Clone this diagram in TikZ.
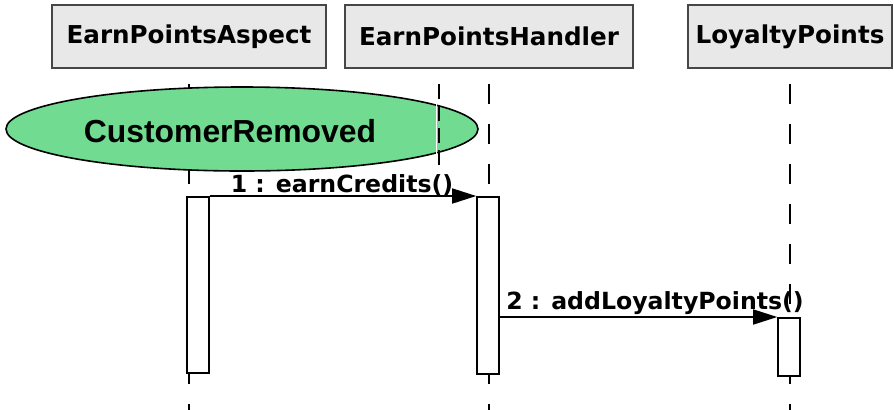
\documentclass[tikz,border=0pt]{standalone}
\usepackage{fontspec}
\setmainfont{DejaVu Sans}
\newfontfamily\ellfont{Liberation Sans}
\usetikzlibrary{arrows.meta,shapes.geometric}
\definecolor{boxfill}{RGB}{232,232,232}
\definecolor{boxline}{RGB}{70,70,70}
\definecolor{evgreen}{RGB}{112,219,145}
\begin{document}
\begin{tikzpicture}[x=1bp,y=-1bp,
  objbox/.style={draw=boxline,fill=boxfill,line width=1.6bp,minimum height=63bp,inner sep=0pt,font=\fontsize{24.7}{28}\selectfont\bfseries},
  lifeline/.style={line width=1.8bp,dash pattern=on 20bp off 20bp,dash phase=25bp},
  actbar/.style={draw,fill=white,line width=1.6bp,minimum width=22bp,inner sep=0pt,anchor=north},
  msg/.style={line width=1.6bp,-{Triangle[length=24bp,width=15bp]}},
  msglabel/.style={font=\fontsize{23.7}{26}\selectfont\bfseries,anchor=base,inner sep=0pt}]
\useasboundingbox[fill=white] (0,0) rectangle (894,409);

% object boxes
\node[objbox,minimum width=274bp] (aspect) at (189,36.5) {EarnPointsAspect};
\node[objbox,minimum width=288bp] (handler) at (489,36.5) {EarnPointsHandler};
\node[objbox,minimum width=204bp] (loyalty) at (790,36.5) {LoyaltyPoints};

% lifeline ends
\coordinate (aend) at (189,412);
\coordinate (hend) at (489,412);
\coordinate (lend) at (790,412);
\draw[lifeline] (aspect.south) -- (aend);
\draw[lifeline] (handler.south) -- (hend);
\draw[lifeline] (loyalty.south) -- (lend);

% event ellipse
\node[draw,fill=evgreen,ellipse,minimum width=472bp,minimum height=84bp,inner sep=0pt,line width=1.6bp] (evt) at (242,129) {};
\node[anchor=base,inner sep=0pt,font=\ellfont\fontsize{32}{36}\selectfont\bfseries] (evtext) at (230,142) {CustomerRemoved};

% extra dashed line over ellipse
\coordinate (xs) at (436.5,89);
\coordinate (xe) at (436.5,168);
\draw[white,line width=1.5bp] (xs) -- (xe);
\coordinate (ds) at (439,84);
\coordinate (de) at (439,172);
\draw[line width=1.8bp,dash pattern=on 15bp off 7bp] (ds) -- (de);

% activation bars
\node[actbar,minimum height=176bp] (abar) at (198,196) {};
\node[actbar,minimum height=177bp] (hbar) at (488,196) {};
\node[actbar,minimum height=58bp] (lbar) at (789,317) {};

% messages
\draw[msg] (abar.north east) -- (hbar.north west);
\node[msglabel] (m1) at (342,192) {1 : earnCredits()};
\draw[msg] (hbar.east |- lbar.north) -- (lbar.north west);
\node[msglabel] (m2) at (655,309) {2 : addLoyaltyPoints()};
\end{tikzpicture}
\end{document}
